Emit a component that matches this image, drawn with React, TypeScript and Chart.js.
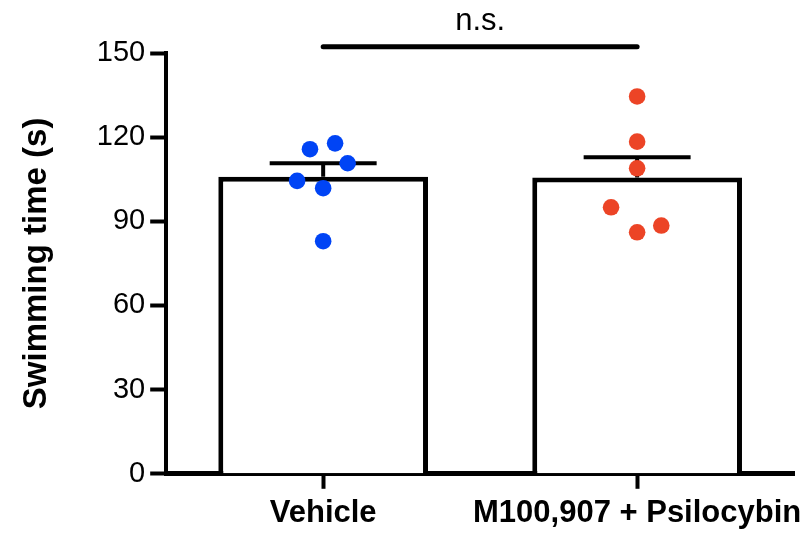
import React, { useEffect, useRef } from "react";
import { Chart, registerables } from "chart.js";

Chart.register(...registerables);

// Groups on the x axis
const groups = ["Vehicle", "M100,907 + Psilocybin"];

// Group means and standard errors (s)
const groupMeans = [105.9, 105.6];
const groupSem = [4.8, 7.2];

// Individual animals (s) and their horizontal jitter within each group
const vehicleTimes = [115.7, 117.8, 110.7, 104.4, 101.8, 82.9];
const vehicleJitter = [-0.042, 0.038, 0.078, -0.083, 0, 0];
const comboTimes = [134.5, 118.4, 108.9, 95.0, 88.5, 86.1];
const comboJitter = [0, 0, 0, -0.083, 0.077, 0];

// Y axis ticks
const yTicks = [0, 30, 60, 90, 120, 150];

// Significance bracket between the two groups
const bracketLevel = 152.2;
const bracketLabel = "n.s.";

const BLUE = "#0044f5";
const RED = "#ec4426";
const FONT = "'Liberation Sans', Arial, Helvetica, sans-serif";

const errorBarsAndBracket = {
  id: "errorBarsAndBracket",
  afterDatasetDraw(chart: any, args: any) {
    if (args.index !== 0) return;
    const { ctx } = chart;
    const y = chart.scales.y;
    const meta = chart.getDatasetMeta(0);
    ctx.save();
    ctx.strokeStyle = "#000";
    ctx.lineWidth = 4;
    ctx.lineCap = "butt";
    meta.data.forEach((bar: any, i: number) => {
      const top = y.getPixelForValue(groupMeans[i]);
      const hi = y.getPixelForValue(groupMeans[i] + groupSem[i]);
      const half = bar.width * 0.255;
      ctx.beginPath();
      ctx.moveTo(bar.x, top);
      ctx.lineTo(bar.x, hi);
      ctx.moveTo(bar.x - half, hi);
      ctx.lineTo(bar.x + half, hi);
      ctx.stroke();
    });
    ctx.restore();
  },
  afterDraw(chart: any) {
    const { ctx } = chart;
    const x = chart.scales.x;
    const y = chart.scales.y;
    const x0 = x.getPixelForValue(0);
    const x1 = x.getPixelForValue(1);
    const by = y.getPixelForValue(bracketLevel);
    ctx.save();
    ctx.strokeStyle = "#000";
    ctx.lineWidth = 5;
    ctx.lineCap = "round";
    ctx.beginPath();
    ctx.moveTo(x0, by);
    ctx.lineTo(x1, by);
    ctx.stroke();
    ctx.fillStyle = "#000";
    ctx.font = `31px ${FONT}`;
    ctx.textAlign = "center";
    ctx.textBaseline = "alphabetic";
    ctx.fillText(bracketLabel, (x0 + x1) / 2, by - 17);
    ctx.restore();
  },
};

export default function App() {
  const canvasRef = useRef<HTMLCanvasElement | null>(null);

  useEffect(() => {
    if (!canvasRef.current) return;
    const chart = new Chart(canvasRef.current, {
      type: "bar",
      data: {
        labels: groups,
        datasets: [
          {
            type: "bar",
            data: groupMeans,
            backgroundColor: "#ffffff",
            borderColor: "#000000",
            borderWidth: 5,
            grouped: false,
            barPercentage: 0.668,
            categoryPercentage: 1,
            order: 2,
          },
          {
            type: "scatter",
            data: vehicleTimes.map((v, i) => ({ x: 0 + vehicleJitter[i], y: v })),
            xAxisID: "x2",
            backgroundColor: BLUE,
            borderColor: BLUE,
            borderWidth: 0,
            pointRadius: 8.3,
            order: 1,
          } as any,
          {
            type: "scatter",
            data: comboTimes.map((v, i) => ({ x: 1 + comboJitter[i], y: v })),
            xAxisID: "x2",
            backgroundColor: RED,
            borderColor: RED,
            borderWidth: 0,
            pointRadius: 8.3,
            order: 1,
          } as any,
        ],
      },
      options: {
        animation: false,
        responsive: true,
        maintainAspectRatio: false,
        layout: { padding: { top: 53, right: 15, bottom: 0, left: 0 } },
        plugins: {
          legend: { display: false },
          tooltip: { enabled: false },
        },
        scales: {
          x: {
            type: "category",
            offset: true,
            border: { display: true, color: "#000", width: 5 },
            grid: {
              offset: false,
              drawOnChartArea: false,
              drawTicks: true,
              tickLength: 15,
              tickWidth: 4,
              tickColor: "#000",
            },
            ticks: {
              color: "#000",
              padding: 6,
              maxRotation: 0,
              autoSkip: false,
              font: { family: FONT, size: 31, weight: "bold" },
            },
          },
          x2: {
            type: "linear",
            display: false,
            offset: false,
            grid: { offset: false },
            min: -0.5,
            max: 1.5,
          },
          y: {
            min: 0,
            max: 150,
            afterBuildTicks: (axis: any) => {
              axis.ticks = yTicks.map((v) => ({ value: v }));
            },
            border: { display: true, color: "#000", width: 4 },
            grid: {
              drawOnChartArea: false,
              drawTicks: true,
              tickLength: 16,
              tickWidth: 4,
              tickColor: "#000",
            },
            ticks: {
              color: "#000",
              padding: 5,
              font: { family: FONT, size: 29 },
            },
            title: {
              display: true,
              text: "Swimming time (s)",
              color: "#000",
              font: { family: FONT, size: 33, weight: "bold" },
              padding: { top: 16.7, bottom: 35.5 },
            },
          },
        },
      },
      plugins: [errorBarsAndBracket],
    });
    return () => chart.destroy();
  }, []);

  return (
    <div style={{ position: "absolute", left: 0, top: 0, width: 811, height: 538, background: "#fff" }}>
      <canvas ref={canvasRef} />
    </div>
  );
}
